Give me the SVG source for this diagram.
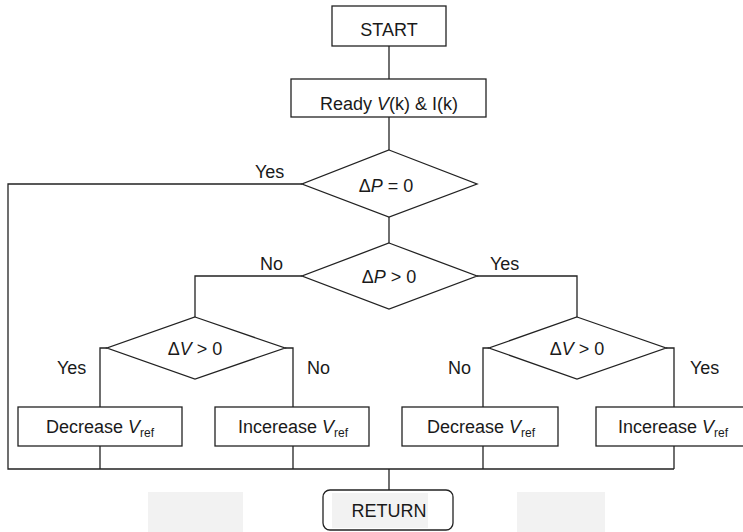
<svg xmlns="http://www.w3.org/2000/svg" width="743" height="532" viewBox="0 0 743 532">
<style>
.box{fill:#fff;stroke:#222;stroke-width:1.3}
.ln{fill:none;stroke:#222;stroke-width:1.3}
.t{font-family:"Liberation Sans",Arial,sans-serif;font-size:18px;fill:#1a1a1a;text-anchor:middle}
.l{font-family:"Liberation Sans",Arial,sans-serif;font-size:18px;fill:#1a1a1a}
.i{font-style:italic}
.s{font-size:12px}
.wm{fill:#f2f2f2}
</style>
<rect width="743" height="532" fill="#fff"/>
<rect class="wm" x="148" y="492" width="95" height="40"/>
<rect class="wm" x="517" y="492" width="88" height="40"/>
<g id="connectors">
<path class="ln" d="M389,46 V79"/>
<path class="ln" d="M389,117 V150"/>
<path class="ln" d="M302,184 H8 V469 H674"/>
<path class="ln" d="M389,217 V243"/>
<path class="ln" d="M302,276 H195 V317"/>
<path class="ln" d="M477,276 H577 V317"/>
<path class="ln" d="M107,348 H100 V407"/>
<path class="ln" d="M285,348 H293 V407"/>
<path class="ln" d="M489,348 H483 V407"/>
<path class="ln" d="M666,348 H674 V407"/>
<path class="ln" d="M100,446 V469"/>
<path class="ln" d="M293,446 V469"/>
<path class="ln" d="M483,446 V469"/>
<path class="ln" d="M674,446 V469"/>
<path class="ln" d="M389,469 V490"/>
<text class="l" x="255" y="178">Yes</text>
<text class="l" x="260" y="270">No</text>
<text class="l" x="490" y="270">Yes</text>
<text class="l" x="57" y="374">Yes</text>
<text class="l" x="307" y="374">No</text>
<text class="l" x="448" y="374">No</text>
<text class="l" x="690" y="374">Yes</text>
</g>
<g id="start">
<rect class="box" x="332" y="6" width="114" height="40"/>
<text class="t" x="389" y="36">START</text>
</g>
<g id="ready">
<rect class="box" x="291" y="79" width="195" height="38"/>
<text class="t" x="389" y="110">Ready <tspan class="i">V</tspan>(k) &amp; I(k)</text>
</g>
<g id="dp0">
<polygon class="box" points="389,150 477,184 389,217 302,184"/>
<text class="t" x="386" y="192">Δ<tspan class="i">P</tspan> = 0</text>
</g>
<g id="dpgt">
<polygon class="box" points="389,243 477,276 389,309 302,276"/>
<text class="t" x="389" y="283">Δ<tspan class="i">P</tspan> &gt; 0</text>
</g>
<g id="dvleft">
<polygon class="box" points="195,317 285,348 195,379 107,348"/>
<text class="t" x="195" y="355">Δ<tspan class="i">V</tspan> &gt; 0</text>
</g>
<g id="dvright">
<polygon class="box" points="577,317 666,348 577,379 489,348"/>
<text class="t" x="577" y="355">Δ<tspan class="i">V</tspan> &gt; 0</text>
</g>
<g id="dec-left">
<rect class="box" x="18" y="407" width="164" height="39"/>
<text class="t" x="100" y="433">Decrease <tspan class="i">V</tspan><tspan class="s" dy="4">ref</tspan></text>
</g>
<g id="inc-left">
<rect class="box" x="215" y="407" width="154" height="39"/>
<text class="t" x="293" y="433">Incerease <tspan class="i">V</tspan><tspan class="s" dy="4">ref</tspan></text>
</g>
<g id="dec-right">
<rect class="box" x="402" y="407" width="156" height="39"/>
<text class="t" x="481" y="433">Decrease <tspan class="i">V</tspan><tspan class="s" dy="4">ref</tspan></text>
</g>
<g id="inc-right">
<rect class="box" x="596" y="407" width="160" height="39"/>
<text class="t" x="673" y="433">Incerease <tspan class="i">V</tspan><tspan class="s" dy="4">ref</tspan></text>
</g>
<g id="return">
<rect class="box" x="323" y="490" width="130" height="40" rx="7"/>
<rect class="wm" x="332" y="493" width="96" height="35"/>
<text class="t" x="389" y="517">RETURN</text>
</g>
</svg>
